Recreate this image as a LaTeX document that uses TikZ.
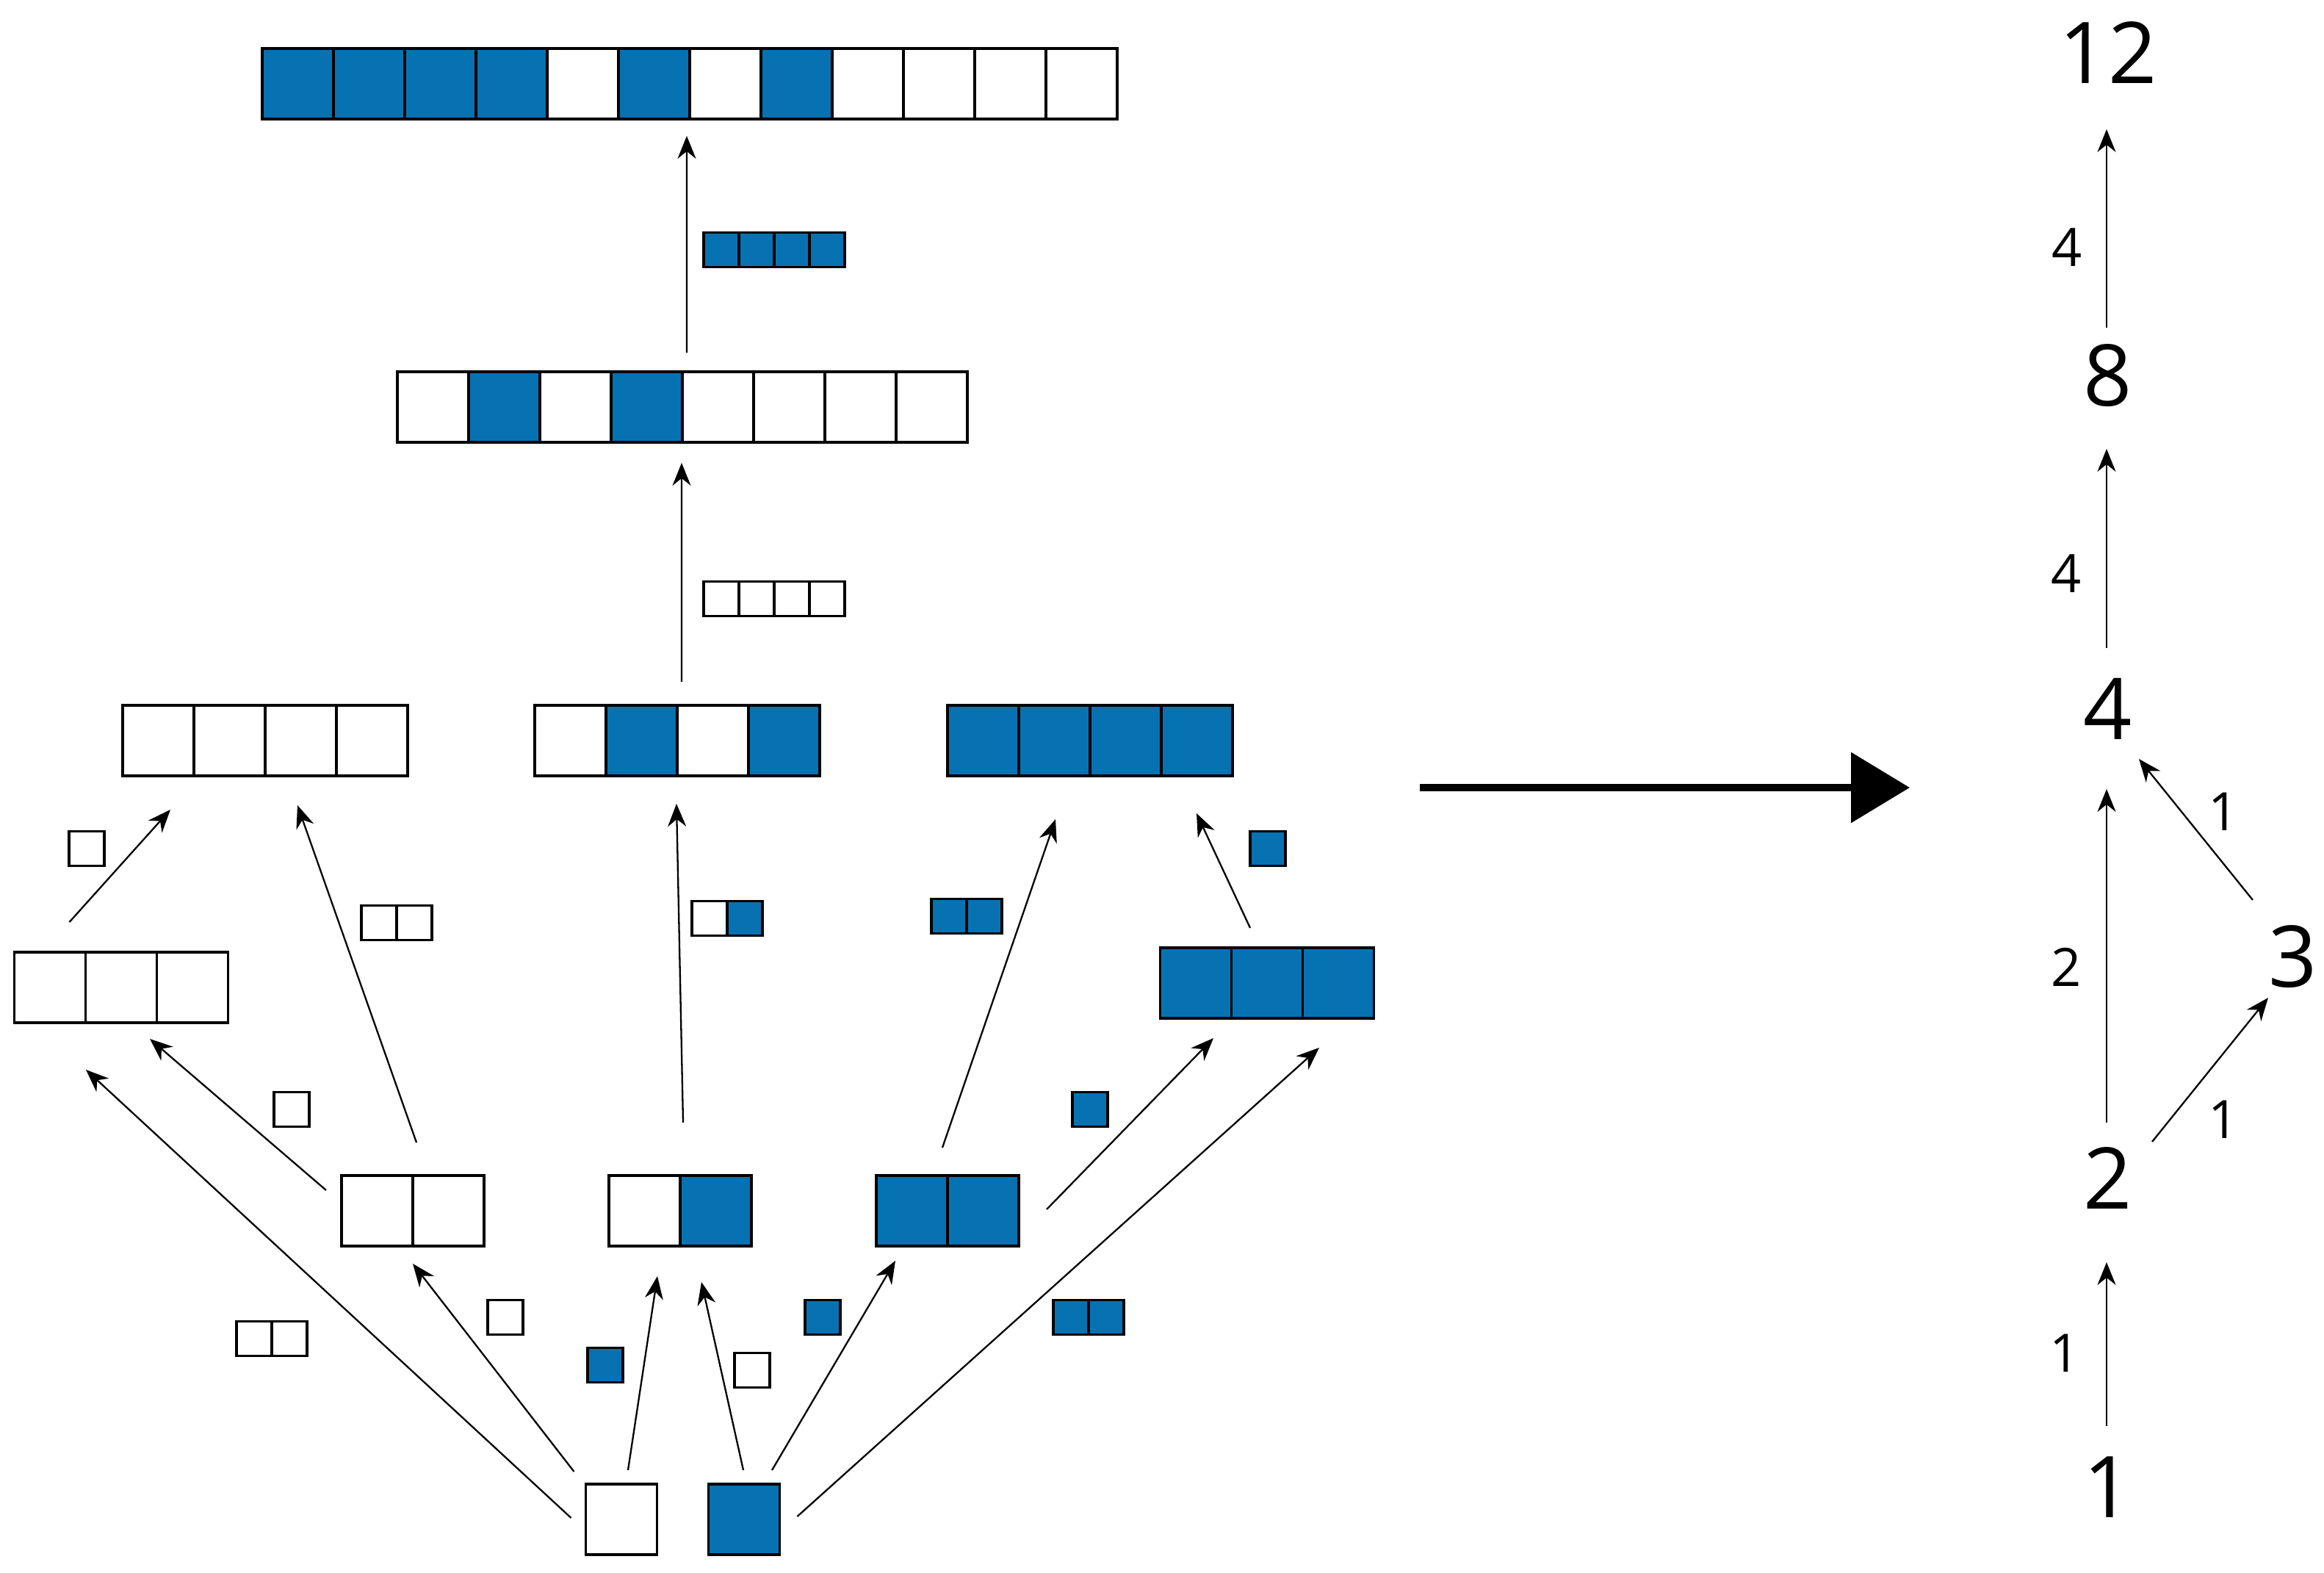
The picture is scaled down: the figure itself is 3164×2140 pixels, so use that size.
\documentclass[tikz,border=0pt]{standalone}
\usepackage{fontspec}
\setmainfont{Open Sans}
\usetikzlibrary{arrows.meta}
\definecolor{B}{RGB}{7,114,178}
\colorlet{W}{white}
\def\bw{9.7mm}\def\bh{9.6mm}
\def\sw{4.8mm}\def\sh{4.7mm}
\tikzset{
  rowbox/.style={inner sep=0pt, outer sep=0pt},
  cell/.style={draw, line width=0.35mm, inner sep=0pt, outer sep=0pt},
  arr/.style={-{Stealth[length=3.1mm,width=2.5mm]}, line width=0.23mm},
  num/.style={font=\fontsize{33}{33}\selectfont, inner sep=0pt},
  wt/.style={font=\fontsize{20.5}{20.5}\selectfont, inner sep=0pt},
}
%% a row of cells: name, centre, cell width, cell height, colours
\newcommand{\cellrow}[5]{%
  \foreach \cl [count=\n] in {#5} {\xdef\ncells{\n}}
  \node[rowbox, minimum width=\ncells*#3, minimum height=#4] (#1) at (#2) {};
  \foreach \cl [count=\i from 0] in {#5}
    \node[cell, fill=\cl, minimum width=#3, minimum height=#4, anchor=west]
      at ([xshift=\i*#3]#1.west) {};
}
\begin{document}
\begin{tikzpicture}[x=0.1mm, y=-0.1mm]
    \useasboundingbox (0,0) rectangle (3164,2140);
    %% rows
    \cellrow{r12}{939,114}{\bw}{\bh}{B,B,B,B,W,B,W,B,W,W,W,W}
    \cellrow{r8}{929,554}{\bw}{\bh}{W,B,W,B,W,W,W,W}
    \cellrow{r4a}{361,1008}{\bw}{\bh}{W,W,W,W}
    \cellrow{r4b}{922,1008}{\bw}{\bh}{W,B,W,B}
    \cellrow{r4c}{1484,1008}{\bw}{\bh}{B,B,B,B}
    \cellrow{r3a}{165,1344}{\bw}{\bh}{W,W,W}
    \cellrow{r3b}{1725,1338}{\bw}{\bh}{B,B,B}
    \cellrow{r2a}{562,1648}{\bw}{\bh}{W,W}
    \cellrow{r2b}{926,1648}{\bw}{\bh}{W,B}
    \cellrow{r2c}{1290,1648}{\bw}{\bh}{B,B}
    \cellrow{r1a}{846,2068}{\bw}{\bh}{W}
    \cellrow{r1b}{1013,2068}{\bw}{\bh}{B}
    %% small rows beside the arrows
    \cellrow{s1}{370,1822}{\sw}{\sh}{W,W}
    \cellrow{s2}{688,1793}{\sw}{\sh}{W}
    \cellrow{s3}{824,1858}{\sw}{\sh}{B}
    \cellrow{s4}{1024,1865}{\sw}{\sh}{W}
    \cellrow{s5}{1120,1793}{\sw}{\sh}{B}
    \cellrow{s6}{1482,1793}{\sw}{\sh}{B,B}
    \cellrow{s7}{397,1510}{\sw}{\sh}{W}
    \cellrow{s8}{540,1256}{\sw}{\sh}{W,W}
    \cellrow{s9}{990,1250}{\sw}{\sh}{W,B}
    \cellrow{s10}{1316,1247}{\sw}{\sh}{B,B}
    \cellrow{s11}{1484,1510}{\sw}{\sh}{B}
    \cellrow{s12}{118,1155}{\sw}{\sh}{W}
    \cellrow{s13}{1726,1155}{\sw}{\sh}{B}
    \cellrow{s14}{1054,815}{\sw}{\sh}{W,W,W,W}
    \cellrow{s15}{1054,340}{\sw}{\sh}{B,B,B,B}
    %% arrows between rows
    \draw[arr] ([shift={(-2mm,0.2mm)}]r1a.west) -- ([shift={(-4.8mm,-6.4mm)}]r3a.south);
    \draw[arr] ([shift={(-1.6mm,1.7mm)}]r1a.north west) -- ([shift={(0mm,-2.4mm)}]r2a.south);
    \draw[arr] ([shift={(0.9mm,1.9mm)}]r1a.north) -- ([shift={(-3.1mm,-4.1mm)}]r2b.south);
    \draw[arr] ([shift={(-0.1mm,1.9mm)}]r1b.north) -- ([shift={(2.9mm,-4.9mm)}]r2b.south);
    \draw[arr] ([shift={(3.8mm,1.9mm)}]r1b.north) -- ([shift={(-7.1mm,-2mm)}]r2c.south);
    \draw[arr] ([shift={(2.4mm,0.4mm)}]r1b.east) -- ([shift={(7.1mm,-4mm)}]r3b.south);
    \draw[arr] ([shift={(-2.1mm,-2mm)}]r2a.north west) -- ([shift={(3.9mm,-2.2mm)}]r3a.south);
    \draw[arr] ([shift={(0.5mm,4.5mm)}]r2a.north) -- ([shift={(4.4mm,-4mm)}]r4a.south);
    \draw[arr] ([shift={(0.4mm,7.2mm)}]r2b.north) -- ([shift={(-0.1mm,-3.8mm)}]r4b.south);
    \draw[arr] ([shift={(-0.7mm,3.8mm)}]r2c.north) -- ([shift={(-4.7mm,-5.9mm)}]r4c.south);
    \draw[arr] ([shift={(3.8mm,0.2mm)}]r2c.east) -- ([shift={(-7.3mm,-2.7mm)}]r3b.south);
    \draw[arr] ([shift={(7.5mm,4.1mm)}]r3a.north west) -- ([shift={(6.5mm,-4.6mm)}]r4a.south west);
    \draw[arr] ([shift={(-2.3mm,2.7mm)}]r3b.north) -- ([shift={(-4.9mm,-5.1mm)}]r4c.south east);
    \draw[arr] ([shift={(0.6mm,3.2mm)}]r4b.north) -- ([shift={(-0.1mm,-2.8mm)}]r8.south);
    \draw[arr] ([shift={(0.6mm,2.6mm)}]r8.north) -- ([shift={(-0.4mm,-2.3mm)}]r12.south);
    %% big arrow
    \coordinate (mapfrom) at (1933,1072);
    \coordinate (mapto) at (2600,1072);
    \draw[line width=1mm, -{Triangle[length=8mm,width=9.4mm]}] (mapfrom) -- (mapto);
    %% sizes
    \node[num] (n12) at (2870,72) {12};
    \node[num] (n8) at (2870,511) {8};
    \node[num] (n4) at (2870,965) {4};
    \node[num] (n3) at (3122,1302) {3};
    \node[num] (n2) at (2870,1603) {2};
    \node[num] (n1) at (2870,2024) {1};
    \draw[arr] ([shift={(-0.2mm,8.3mm)}]n1.center) -- ([shift={(-0.2mm,-11.5mm)}]n2.center);
    \draw[arr] ([shift={(-0.2mm,7.5mm)}]n2.center) -- ([shift={(-0.2mm,-10.9mm)}]n4.center);
    \draw[arr] ([shift={(-0.2mm,8.3mm)}]n4.center) -- ([shift={(-0.2mm,-10mm)}]n8.center);
    \draw[arr] ([shift={(-0.2mm,6.5mm)}]n8.center) -- ([shift={(-0.2mm,-10.4mm)}]n12.center);
    \draw[arr] ([shift={(6mm,4.9mm)}]n2.center) -- ([shift={(-3.4mm,-5.6mm)}]n3.center);
    \draw[arr] ([shift={(-5.5mm,7.7mm)}]n3.center) -- ([shift={(4.2mm,-6.8mm)}]n4.center);
    \node[wt] (w1) at (2811,1842) {1};
    \node[wt] (w2) at (2813,1316) {2};
    \node[wt] (w3) at (3027,1524) {1};
    \node[wt] (w4) at (3027,1105) {1};
    \node[wt] (w5) at (2813,781) {4};
    \node[wt] (w6) at (2814,337) {4};
\end{tikzpicture}
\end{document}
